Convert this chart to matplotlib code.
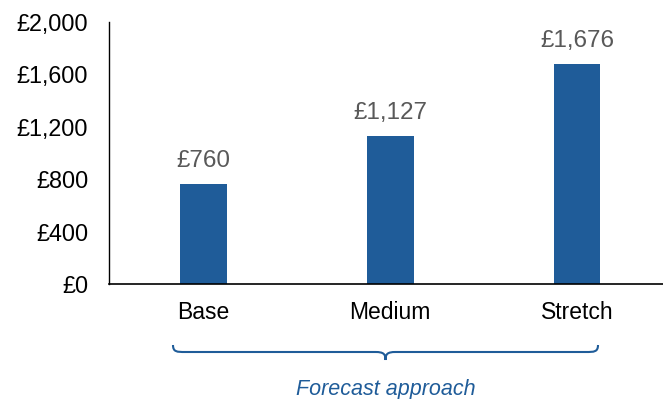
import matplotlib
matplotlib.use("Agg")
import matplotlib.pyplot as plt
from matplotlib.path import Path
from matplotlib.patches import PathPatch

categories = ["Base", "Medium", "Stretch"]
values = [760, 1127, 1676]
yticks = [0, 400, 800, 1200, 1600, 2000]
ytick_labels = ["£0", "£400", "£800", "£1,200", "£1,600", "£2,000"]
value_labels = ["£760", "£1,127", "£1,676"]
axis_title = "Forecast approach"

plt.rcParams['font.family'] = ['Liberation Sans', 'DejaVu Sans']

W, H = 663, 399
fig = plt.figure(figsize=(W/100, H/100), dpi=100)
left = 109 / W
bottom = (H - 284) / H
top = (H - 22) / H
ax = fig.add_axes([left, bottom, 1 - left, top - bottom])

bar_color = "#1f5c99"
x = list(range(len(categories)))
bars = ax.bar(x, values, width=0.25, color=bar_color)
ax.set_xlim(-0.505, 2.46)
ax.set_ylim(0, 2000)
ax.set_yticks(yticks)
ax.set_yticklabels(ytick_labels, fontsize=16.8, color="#000000")
ax.set_xticks(x)
ax.set_xticklabels(categories, fontsize=16.5, color="#000000")
ax.tick_params(axis='y', length=0, pad=15)
ax.tick_params(axis='x', length=0, pad=12)
for s in ["top", "right"]:
    ax.spines[s].set_visible(False)
ax.spines["left"].set_color("#000000")
ax.spines["bottom"].set_color("#000000")
ax.spines["left"].set_linewidth(1.0)
ax.spines["bottom"].set_linewidth(1.2)

for xi, v, lab in zip(x, values, value_labels):
    ax.annotate(lab, (xi, v), xytext=(0, 12.5), textcoords="offset points",
                ha="center", va="baseline", fontsize=17.5, color="#595959")

# Brace (figure pixel coords converted to fraction)
def fx(px): return px / W
def fy(py): return (H - py) / H
x0, x1 = 173, 598
xm = (x0 + x1) / 2
yt, yl, ytip = 345, 352, 360
verts = [
    (fx(x0), fy(yt)),
    (fx(x0), fy(yl)), (fx(x0 + 4), fy(yl)), (fx(x0 + 12), fy(yl)),
    (fx(xm - 10), fy(yl)),
    (fx(xm - 2), fy(yl)), (fx(xm), fy(yl + 2)), (fx(xm), fy(ytip)),
    (fx(xm), fy(yl + 2)), (fx(xm + 2), fy(yl)), (fx(xm + 10), fy(yl)),
    (fx(x1 - 12), fy(yl)),
    (fx(x1 - 4), fy(yl)), (fx(x1), fy(yl)), (fx(x1), fy(yt)),
]
codes = [Path.MOVETO,
         Path.CURVE4, Path.CURVE4, Path.CURVE4,
         Path.LINETO,
         Path.CURVE4, Path.CURVE4, Path.CURVE4,
         Path.CURVE4, Path.CURVE4, Path.CURVE4,
         Path.LINETO,
         Path.CURVE4, Path.CURVE4, Path.CURVE4]
patch = PathPatch(Path(verts, codes), transform=fig.transFigure,
                  fill=False, edgecolor=bar_color, linewidth=1.5)
fig.patches.append(patch)

fig.text(fx(xm), fy(389), axis_title, ha="center", va="center",
         fontsize=15.5, style="italic", color=bar_color)

fig.savefig("out.png", dpi=100)
